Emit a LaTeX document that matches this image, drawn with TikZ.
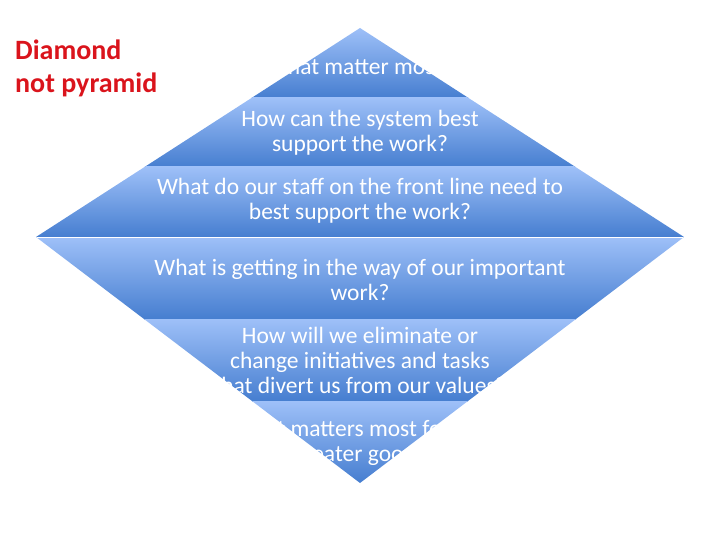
\documentclass[tikz,border=0pt]{standalone}
\usepackage{fontspec}
\setmainfont{Carlito}
\usetikzlibrary{positioning}
\definecolor{bandlight}{RGB}{158,192,248}
\definecolor{banddark}{RGB}{70,126,208}
\definecolor{titlered}{RGB}{218,20,28}

\begin{document}
\begin{tikzpicture}[x=1pt, y=-1pt,
  band/.style={top color=bandlight, bottom color=banddark},
  q/.style={text=white, align=center, font=\fontsize{23.5}{25}\selectfont,
    inner sep=0pt},
  title/.style={text=titlered, align=left, anchor=north west,
    font=\fontsize{28}{33}\selectfont\bfseries, inner sep=0pt},
]
\useasboundingbox (0,0) rectangle (720,540);
% diamond outline points
\coordinate (top) at (360,28);
\coordinate (rt) at (684,237);
\coordinate (bot) at (360,483);
\coordinate (lt) at (36,237);
% shaded bands, clipped to the diamond
\begin{scope}
  \clip (top) -- (rt) -- (bot) -- (lt) -- cycle;
  \shade[band] (36,28) rectangle (684,98);
  \shade[band] (36,98) rectangle (684,167);
  \shade[band] (36,167) rectangle (684,237);
  \shade[band] (36,237) rectangle (684,319);
  \shade[band] (36,319) rectangle (684,401);
  \shade[band] (36,401) rectangle (684,483);
  \draw[white, line width=1pt] (lt) -- (rt);
\end{scope}
% questions
\node[q] (q1) at (360,66) {What matter most?};
\node[q] (q2) at (360,133) {How can the system best\\support the work?};
\node[q] (q3) at (360,201) {What do our staff on the front line need to\\best support the work?};
\node[q] (q4) at (360,280) {What is getting in the way of our important\\work?};
\node[q] (q5) at (360,360) {How will we eliminate or\\change initiatives and tasks\\that divert us from our values?};
\node[q] (q6) at (360,443) {What matters most for the\\greater good?};
% title
\node[title] (ttl) at (15,40) {Diamond\\not pyramid};
\end{tikzpicture}
\end{document}
